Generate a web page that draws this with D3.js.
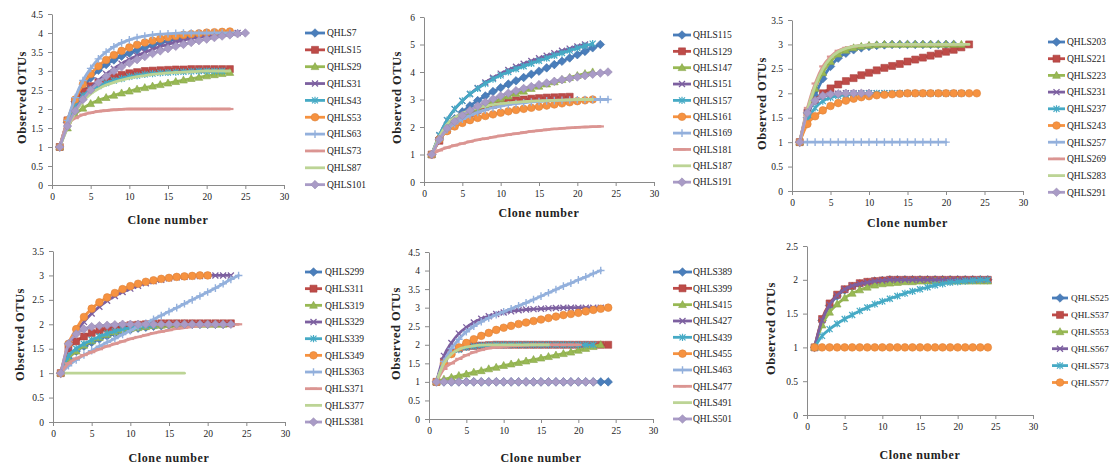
<!DOCTYPE html>
<html>
<head>
<meta charset="utf-8">
<script src="https://cdn.jsdelivr.net/npm/d3@7"></script>
<style>
  body { margin: 0; background: #fff; }
  svg { display: block; }
  text { font-family: "Liberation Serif", "Times New Roman", serif; fill: #222; }
</style>
</head>
<body>
<svg id="chart" width="1112" height="471"></svg>
<script>
// ---- Rarefaction data: observed OTUs at clone number 1, 2, 3, ... ----

const xTicks = [0, 5, 10, 15, 20, 25, 30];

// Panel A
const namesA = ["QHLS7","QHLS15","QHLS29","QHLS31","QHLS43","QHLS53","QHLS63","QHLS73","QHLS87","QHLS101"];
const yTicksA = [0, 0.5, 1, 1.5, 2, 2.5, 3, 3.5, 4, 4.5];
const otusA = [
  [1,1.65,2.2,2.55,2.82,3.02,3.17,3.29,3.39,3.47,3.55,3.62,3.68,3.74,3.79,3.83,3.87,3.9,3.93,3.96,3.98,4.0],
  [1,1.7,2.2,2.45,2.6,2.7,2.78,2.84,2.9,2.94,2.97,3.0,3.01,3.02,3.03,3.04,3.04,3.05,3.05,3.05,3.05,3.05,3.05],
  [1,1.5,1.85,2.02,2.14,2.23,2.3,2.36,2.42,2.47,2.52,2.56,2.6,2.64,2.68,2.72,2.76,2.8,2.83,2.87,2.9,2.93,2.96],
  [1,1.6,2.0,2.3,2.55,2.75,2.92,3.06,3.19,3.3,3.4,3.49,3.57,3.64,3.7,3.76,3.81,3.85,3.89,3.92,3.95,3.97,3.99,4.0],
  [1,1.6,2.1,2.35,2.5,2.6,2.68,2.75,2.8,2.85,2.88,2.91,2.93,2.95,2.96,2.97,2.98,2.99,3.0,3.0,3.0,3.0],
  [1,1.7,2.25,2.65,2.92,3.13,3.29,3.42,3.53,3.62,3.69,3.75,3.8,3.85,3.89,3.92,3.95,3.97,3.99,4.01,4.02,4.03,4.04],
  [1,1.7,2.3,2.75,3.07,3.32,3.5,3.64,3.74,3.82,3.88,3.92,3.95,3.97,3.98,3.99,4.0,4.0,4.0,4.0,4.0,4.0,4.0,4.0],
  [1,1.6,1.76,1.85,1.9,1.94,1.96,1.98,1.99,2.0,2.0,2.0,2.0,2.0,2.0,2.0,2.0,2.0,2.0,2.0,2.0,2.0,2.0],
  [1,1.5,1.9,2.2,2.4,2.53,2.63,2.7,2.76,2.81,2.85,2.88,2.91,2.93,2.95,2.96,2.97,2.98,2.99,3.0,3.0,3.0,3.0],
  [1,1.55,1.95,2.25,2.5,2.7,2.86,3.0,3.11,3.21,3.3,3.38,3.46,3.53,3.59,3.65,3.7,3.75,3.8,3.84,3.88,3.92,3.95,3.98,4.0]
];

// Panel B
const namesB = ["QHLS115","QHLS129","QHLS147","QHLS151","QHLS157","QHLS161","QHLS169","QHLS181","QHLS187","QHLS191"];
const yTicksB = [0, 1, 2, 3, 4, 5, 6];
const otusB = [
  [1,1.6,2.0,2.3,2.55,2.77,2.96,3.13,3.29,3.43,3.56,3.68,3.8,3.92,4.03,4.15,4.27,4.39,4.51,4.63,4.75,4.88,5.0],
  [1,1.5,1.9,2.15,2.35,2.5,2.62,2.72,2.8,2.87,2.93,2.97,3.0,3.03,3.05,3.07,3.08,3.09,3.1],
  [1,1.6,1.95,2.2,2.4,2.55,2.68,2.8,2.92,3.02,3.12,3.22,3.3,3.4,3.48,3.56,3.64,3.72,3.8,3.87,3.94,4.0],
  [1,1.7,2.25,2.65,2.95,3.2,3.42,3.62,3.79,3.94,4.07,4.19,4.3,4.4,4.5,4.59,4.68,4.77,4.85,4.93,5.0],
  [1,1.7,2.25,2.65,2.95,3.2,3.4,3.58,3.74,3.88,4.0,4.11,4.21,4.31,4.41,4.5,4.6,4.69,4.78,4.87,4.95,5.03],
  [1,1.55,1.85,2.02,2.15,2.25,2.33,2.4,2.46,2.52,2.57,2.62,2.66,2.7,2.74,2.78,2.82,2.86,2.9,2.94,2.97,3.0],
  [1,1.55,1.9,2.12,2.28,2.42,2.53,2.62,2.7,2.76,2.81,2.85,2.88,2.91,2.93,2.95,2.96,2.97,2.98,2.99,3.0,3.0,3.0,3.0],
  [1,1.15,1.25,1.33,1.4,1.47,1.53,1.58,1.63,1.68,1.72,1.76,1.8,1.84,1.87,1.9,1.93,1.95,1.97,1.99,2.0,2.01,2.02],
  [1,1.65,2.1,2.35,2.5,2.62,2.7,2.76,2.81,2.85,2.88,2.9,2.92,2.94,2.95,2.96,2.97,2.98,2.99,3.0,3.0,3.0],
  [1,1.55,1.95,2.2,2.42,2.6,2.76,2.9,3.02,3.13,3.23,3.32,3.4,3.47,3.54,3.6,3.66,3.72,3.77,3.82,3.87,3.92,3.96,4.0]
];

// Panel C
const namesC = ["QHLS203","QHLS221","QHLS223","QHLS231","QHLS237","QHLS243","QHLS257","QHLS269","QHLS283","QHLS291"];
const yTicksC = [0, 0.5, 1, 1.5, 2, 2.5, 3, 3.5];
const otusC = [
  [1,1.5,1.95,2.3,2.55,2.72,2.82,2.89,2.93,2.96,2.98,2.99,3.0,3.0,3.0,3.0,3.0,3.0,3.0,3.0,3.0],
  [1,1.6,1.85,2.0,2.1,2.18,2.25,2.31,2.37,2.42,2.47,2.52,2.56,2.6,2.65,2.69,2.73,2.77,2.81,2.85,2.89,2.94,3.0],
  [1,1.65,2.1,2.42,2.65,2.8,2.88,2.93,2.96,2.98,2.99,3.0,3.0,3.0,3.0,3.0,3.0,3.0,3.0,3.0,3.0,3.0],
  [1,1.6,1.83,1.93,1.97,1.99,2.0,2.0,2.0,2.0,2.0,2.0,2.0,2.0,2.0,2.0,2.0,2.0,2.0,2.0,2.0,2.0],
  [1,1.45,1.7,1.84,1.91,1.95,1.97,1.98,1.99,2.0,2.0,2.0,2.0,2.0,2.0,2.0,2.0,2.0,2.0,2.0,2.0,2.0],
  [1,1.37,1.53,1.65,1.74,1.8,1.85,1.89,1.92,1.94,1.96,1.97,1.98,1.99,2.0,2.0,2.0,2.0,2.0,2.0,2.0,2.0,2.0,2.0],
  [1,1,1,1,1,1,1,1,1,1,1,1,1,1,1,1,1,1,1,1],
  [1,1.7,2.2,2.55,2.75,2.87,2.93,2.96,2.98,2.99,3.0,3.0,3.0,3.0,3.0,3.0,3.0,3.0,3.0,3.0,3.0,3.0],
  [1,1.65,2.15,2.5,2.72,2.85,2.92,2.96,2.98,2.99,3.0,3.0,3.0,3.0,3.0,3.0,3.0,3.0,3.0,3.0,3.0,3.0,3.0],
  [1,1.6,1.85,1.95,1.98,1.99,2.0,2.0,2.0,2.0]
];

// Panel D
const namesD = ["QHLS299","QHLS311","QHLS319","QHLS329","QHLS339","QHLS349","QHLS363","QHLS371","QHLS377","QHLS381"];
const yTicksD = [0, 0.5, 1, 1.5, 2, 2.5, 3, 3.5];
const otusD = [
  [1,1.3,1.45,1.55,1.63,1.7,1.76,1.81,1.85,1.89,1.92,1.94,1.96,1.97,1.98,1.99,2.0,2.0,2.0,2.0,2.0,2.0],
  [1,1.5,1.65,1.75,1.82,1.87,1.91,1.94,1.96,1.98,1.99,2.0,2.01,2.02,2.02,2.02,2.02,2.02,2.02,2.02,2.02,2.02,2.02],
  [1,1.3,1.45,1.57,1.66,1.73,1.79,1.84,1.88,1.91,1.93,1.95,1.97,1.98,1.99,2.0,2.0,2.0,2.0,2.0,2.0,2.0],
  [1,1.55,1.85,2.05,2.22,2.36,2.48,2.58,2.66,2.73,2.79,2.84,2.88,2.91,2.94,2.96,2.97,2.98,2.99,3.0,3.0,3.0,3.0],
  [1,1.35,1.5,1.6,1.68,1.75,1.81,1.86,1.9,1.93,1.95,1.97,1.98],
  [1,1.6,1.9,2.15,2.32,2.45,2.55,2.64,2.72,2.78,2.83,2.87,2.9,2.93,2.95,2.97,2.98,2.99,3.0,3.0],
  [1,1.15,1.27,1.37,1.46,1.55,1.63,1.71,1.79,1.87,1.95,2.02,2.1,2.18,2.26,2.34,2.42,2.5,2.58,2.66,2.74,2.83,2.92,3.0],
  [1,1.2,1.3,1.37,1.43,1.49,1.55,1.6,1.65,1.7,1.74,1.78,1.82,1.85,1.88,1.91,1.93,1.95,1.97,1.98,1.99,2.0,2.0,2.0],
  [1,1,1,1,1,1,1,1,1,1,1,1,1,1,1,1,1],
  [1,1.6,1.8,1.9,1.95,1.97,1.98,1.99,2.0,2.0,2.0,2.0,2.0,2.0,2.0,2.0,2.0,2.0,2.0,2.0,2.0,2.0,2.0]
];

// Panel E
const namesE = ["QHLS389","QHLS399","QHLS415","QHLS427","QHLS439","QHLS455","QHLS463","QHLS477","QHLS491","QHLS501"];
const yTicksE = [0, 0.5, 1, 1.5, 2, 2.5, 3, 3.5, 4, 4.5];
const otusE = [
  [1,1,1,1,1,1,1,1,1,1,1,1,1,1,1,1,1,1,1,1,1,1,1,1],
  [1,1.55,1.8,1.9,1.95,1.97,1.98,1.99,2.0,2.0,2.0,2.0,2.0,2.0,2.0,2.0,2.0,2.0,2.0,2.0,2.0,2.0,2.0,2.0],
  [1,1.07,1.12,1.17,1.21,1.26,1.3,1.35,1.39,1.44,1.48,1.52,1.56,1.6,1.64,1.68,1.72,1.76,1.8,1.85,1.9,1.95,2.0],
  [1,1.7,2.05,2.3,2.47,2.6,2.7,2.77,2.83,2.87,2.9,2.93,2.95,2.96,2.97,2.98,2.99,3.0,3.0,3.0,3.0,3.0,3.0],
  [1,1.5,1.75,1.87,1.93,1.96,1.98,1.99,2.0,2.0,2.0,2.0,2.0,2.0,2.0,2.0,2.0,2.0,2.0,2.0,2.0,2.0],
  [1,1.5,1.75,1.93,2.05,2.15,2.24,2.32,2.4,2.46,2.51,2.56,2.6,2.64,2.68,2.72,2.76,2.8,2.83,2.86,2.9,2.94,2.97,3.0],
  [1,1.55,1.9,2.15,2.35,2.5,2.62,2.72,2.81,2.89,2.97,3.05,3.13,3.22,3.31,3.4,3.49,3.58,3.66,3.75,3.83,3.92,4.0],
  [1,1.35,1.5,1.62,1.72,1.8,1.86,1.91,1.94,1.96,1.97,1.98,1.99,2.0,2.0,2.0,2.0,2.0,2.0,2.0],
  [1,1.5,1.75,1.88,1.94,1.97,1.99,2.0,2.0,2.0,2.0,2.0,2.0,2.0,2.0,2.0],
  [1,1,1,1,1,1,1,1,1,1,1,1,1,1,1,1,1,1,1,1,1,1]
];

// Panel F
const namesF = ["QHLS525","QHLS537","QHLS553","QHLS567","QHLS573","QHLS577"];
const yTicksF = [0, 0.5, 1, 1.5, 2, 2.5];
const otusF = [
  [1,1.4,1.62,1.76,1.85,1.9,1.94,1.96,1.98,1.99,2.0,2.0,2.0,2.0,2.0,2.0,2.0,2.0,2.0,2.0,2.0,2.0,2.0,2.0],
  [1,1.42,1.65,1.78,1.86,1.91,1.95,1.97,1.98,1.99,2.0,2.0,2.0,2.0,2.0,2.0,2.0,2.0,2.0,2.0,2.0,2.0,2.0,2.0],
  [1,1.33,1.52,1.64,1.73,1.8,1.85,1.89,1.92,1.94,1.95,1.96,1.97,1.97,1.98,1.98,1.98,1.98,1.98,1.98,1.98,1.98,1.98,1.98],
  [1,1.4,1.63,1.77,1.86,1.91,1.94,1.96,1.98,1.99,2.0,2.0,2.0,2.0,2.0,2.0,2.0,2.0,2.0,2.0,2.0,2.0,2.0,2.0],
  [1,1.17,1.27,1.35,1.42,1.48,1.54,1.59,1.64,1.68,1.72,1.76,1.8,1.83,1.86,1.89,1.92,1.94,1.96,1.97,1.98,1.99,2.0,2.0],
  [1,1,1,1,1,1,1,1,1,1,1,1,1,1,1,1,1,1,1,1,1,1,1,1]
];

// ---- Series styling (same order in every panel) ----
const seriesColors = ["#4a7ebb","#be4b48","#98b954","#7d60a0","#46aac5","#f69240","#93b0dc","#db9592","#bcd495","#a99bc6"];
const seriesMarkers = ["diamond","square","triangle","cross","star","circle","plus","dash","none","diamond"];

// ---- Layout of each panel ----
const panels = [
  { names: namesA, otus: otusA, yTicks: yTicksA, l: 52,  r: 284,  t: 14,  b: 185, lgX0: 305,  lgX1: 325,  lgTx: 327,  lgY0: 33,  lgDy: 16.85, lgFs: 9.5, xtY: 224, ytX: 22 },
  { names: namesB, otus: otusB, yTicks: yTicksB, l: 424, r: 654,  t: 17,  b: 182, lgX0: 673,  lgX1: 691,  lgTx: 693,  lgY0: 35,  lgDy: 16.35, lgFs: 9.5, xtY: 217, ytX: 397 },
  { names: namesC, otus: otusC, yTicks: yTicksC, l: 792, r: 1023, t: 20,  b: 191, lgX0: 1048, lgX1: 1065, lgTx: 1067, lgY0: 42,  lgDy: 16.7,  lgFs: 9.5, xtY: 227, ytX: 762 },
  { names: namesD, otus: otusD, yTicks: yTicksD, l: 53,  r: 285,  t: 251, b: 422, lgX0: 305,  lgX1: 322,  lgTx: 325,  lgY0: 272, lgDy: 16.67, lgFs: 9.5, xtY: 462, ytX: 20 },
  { names: namesE, otus: otusE, yTicks: yTicksE, l: 429, r: 653,  t: 252, b: 419, lgX0: 673,  lgX1: 692,  lgTx: 693,  lgY0: 272, lgDy: 16.33, lgFs: 9.5, xtY: 462, ytX: 396 },
  { names: namesF, otus: otusF, yTicks: yTicksF, l: 807, r: 1033, t: 246, b: 415, lgX0: 1052, lgX1: 1068, lgTx: 1071, lgY0: 298, lgDy: 16.9,  lgFs: 9.2, xtY: 459, ytX: 771 }
];

const svg = d3.select("#chart");
const axisColor = "#8a8a8a";

function markerPath(kind) {
  switch (kind) {
    case "diamond":  return "M0,-4.3L4.3,0L0,4.3L-4.3,0Z";
    case "square":   return "M-3.5,-3.5H3.5V3.5H-3.5Z";
    case "triangle": return "M0,-4.1L3.9,2.9H-3.9Z";
    case "circle":   return d3.symbol(d3.symbolCircle, 46)();
    case "cross":    return "M-3,-3L3,3M-3,3L3,-3";
    case "star":     return "M-3,-3L3,3M-3,3L3,-3M0,-3.6V3.6";
    case "plus":     return "M-3.8,0H3.8M0,-3.8V3.8";
    case "dash":     return "M-3.6,0H3.6";
    default:         return null;
  }
}
const strokeOnly = { cross: 1.3, star: 1.2, plus: 1.4, dash: 2.2 };

function drawMarker(g, kind, color, cx, cy) {
  const p = markerPath(kind);
  if (!p) return;
  const el = g.append("path").attr("d", p).attr("transform", `translate(${cx},${cy})`);
  if (strokeOnly[kind]) {
    el.attr("fill", "none").attr("stroke", color).attr("stroke-width", strokeOnly[kind]);
  } else {
    el.attr("fill", color).attr("stroke", d3.color(color).darker(0.3)).attr("stroke-width", 0.6);
  }
}

panels.forEach(p => {
  const g = svg.append("g");
  const x = d3.scaleLinear().domain([0, 30]).range([p.l, p.r]);
  const y = d3.scaleLinear().domain([0, p.yTicks[p.yTicks.length - 1]]).range([p.b, p.t]);

  // axes
  const gx = g.append("g").attr("transform", `translate(0,${p.b})`)
    .call(d3.axisBottom(x).tickValues(xTicks).tickSize(4).tickSizeOuter(0).tickPadding(4).tickFormat(d => String(d)));
  const gy = g.append("g").attr("transform", `translate(${p.l},0)`)
    .call(d3.axisLeft(y).tickValues(p.yTicks).tickSize(4).tickSizeOuter(0).tickPadding(5).tickFormat(d => String(d)));
  [gx, gy].forEach(a => {
    a.select(".domain").attr("stroke", axisColor).attr("stroke-width", 1);
    a.selectAll(".tick line").attr("stroke", axisColor);
    a.selectAll(".tick text").attr("fill", "#222").style("font-size", "9.5px")
      .style("font-family", "'Liberation Serif', 'Times New Roman', serif");
  });

  // axis titles
  g.append("text").attr("x", (p.l + p.r) / 2).attr("y", p.xtY)
    .attr("text-anchor", "middle").style("font-size", "12px").style("font-weight", "bold")
    .style("letter-spacing", "0.6px").text("Clone number");
  g.append("text").attr("transform", `translate(${p.ytX},${(p.t + p.b) / 2 - 2}) rotate(-90)`)
    .attr("text-anchor", "middle").attr("dy", "0.35em")
    .style("font-size", "12.5px").style("font-weight", "bold").style("letter-spacing", "0.5px")
    .text("Observed OTUs");

  // series
  const line = d3.line().x(d => x(d[0])).y(d => y(d[1])).curve(d3.curveMonotoneX);
  p.otus.forEach((vals, i) => {
    const color = seriesColors[i];
    const kind = seriesMarkers[i];
    const pts = vals.map((v, k) => [k + 1, v]);
    const sg = g.append("g");
    sg.append("path").datum(pts).attr("d", line)
      .attr("fill", "none").attr("stroke", color).attr("stroke-width", 2.8)
      .attr("stroke-linejoin", "round").attr("stroke-linecap", "round");
    pts.forEach(d => drawMarker(sg, kind, color, x(d[0]), y(d[1])));
  });

  // legend
  p.names.forEach((name, i) => {
    const cy = p.lgY0 + i * p.lgDy;
    const lg = g.append("g");
    lg.append("line").attr("x1", p.lgX0).attr("x2", p.lgX1).attr("y1", cy).attr("y2", cy)
      .attr("stroke", seriesColors[i]).attr("stroke-width", 2.8);
    drawMarker(lg, seriesMarkers[i], seriesColors[i], (p.lgX0 + p.lgX1) / 2, cy);
    lg.append("text").attr("x", p.lgTx).attr("y", cy).attr("dy", "0.35em")
      .style("font-size", p.lgFs + "px").text(name);
  });
});
</script>
</body>
</html>
